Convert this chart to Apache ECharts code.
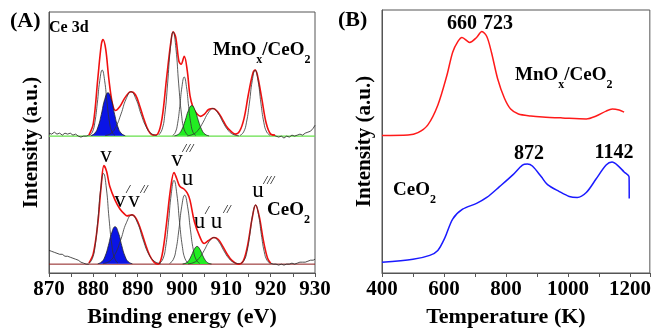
<!DOCTYPE html>
<html>
<head>
<meta charset="utf-8">
<script src="https://cdn.jsdelivr.net/npm/echarts@6/dist/echarts.min.js"></script>
<style>
  html, body { margin: 0; padding: 0; background: #fff; }
  #chart { width: 654px; height: 333px; }
</style>
</head>
<body>
<div id="chart"></div>
<script>
// ---- (A) Ce 3d XPS, binding energy (eV) vs intensity (a.u., arbitrary offset units)
// MnOx/CeO2 spectrum (upper), fit background at 139
const topBase = [[870, 139], [930, 139]];
const topRawLeft = [[870, 142], [870.6, 141], [871.2, 143], [871.8, 141], [872.4, 142], [873, 140], [873.6, 142], [874.2, 141], [874.8, 142], [875.4, 140], [876, 141], [876.6, 139], [877.2, 138], [877.8, 139], [878.4, 139], [879, 140]];
const topRawRight = [[920, 141], [920.6, 140], [921.2, 139], [921.8, 138], [922.4, 139], [923, 137], [923.6, 139], [924.2, 138], [924.8, 140], [925.4, 139], [926, 140], [926.6, 141], [927.2, 140], [927.8, 142], [928.4, 143], [929, 144], [929.6, 147], [930, 150]];
const topFit = [[879, 140], [880, 152], [881, 197], [881.8, 232], [882.2, 237], [882.8, 227], [883.5, 197], [884.3, 172], [885, 165], [886, 169], [887, 177], [888, 183], [888.5, 184], [889.5, 181], [890.5, 169], [891.5, 155], [892.5, 144], [893.5, 140], [894.5, 141], [895.5, 157], [896.5, 197], [897.5, 235], [898, 245], [898.6, 239], [899.3, 215], [899.8, 212], [900.5, 220], [901.2, 205], [901.8, 180], [902.5, 168], [903.3, 162], [904.2, 159], [905, 161], [906, 166], [907, 167], [908, 164], [909, 157], [910, 149], [911, 144], [912, 141], [913, 144], [914, 157], [915, 182], [916, 203], [916.5, 206], [917, 201], [918, 177], [919, 152], [920, 141], [921, 140]];
const topV = [[879.14, 139.7], [879.8, 143.2], [880.35, 153.1], [880.9, 172.5], [881.45, 195.3], [882, 206], [882.55, 195.3], [883.1, 172.5], [883.65, 153.1], [884.2, 143.2], [884.86, 139.7]];
const topV1 = [[879.4, 139.4], [880.3, 141.8], [881.05, 148.2], [881.8, 161], [882.55, 176], [883.3, 183], [884.05, 176], [884.8, 161], [885.55, 148.2], [886.3, 141.8], [887.2, 139.4]];
const topV2 = [[882.65, 139.5], [884, 141.8], [885.1, 148.5], [886.25, 161.5], [887.4, 176.8], [888.5, 184], [889.6, 176.8], [890.75, 161.5], [891.9, 148.5], [893, 141.8], [894.35, 139.5]];
const topV3 = [[894.75, 140.1], [895.5, 145.6], [896.13, 161.3], [896.75, 192], [897.38, 228], [898, 245], [898.63, 228], [899.25, 192], [899.88, 161.3], [900.5, 145.6], [901.25, 140.1]];
const topU = [[897.9, 139.6], [898.5, 142.8], [899, 151.6], [899.5, 169], [900, 189.4], [900.5, 199], [901, 189.4], [901.5, 169], [902, 151.6], [902.5, 142.8], [903.1, 139.6]];
const topU1 = [[898.3, 139.3], [899.2, 140.9], [899.95, 145.5], [900.7, 154.5], [901.45, 165], [902.2, 170], [902.95, 165], [903.7, 154.5], [904.45, 145.5], [905.2, 140.9], [906.1, 139.3]];
const topU2 = [[901.15, 139.3], [902.5, 140.8], [903.6, 144.9], [904.75, 153], [905.9, 162.5], [907, 167], [908.1, 162.5], [909.25, 153], [910.4, 144.9], [911.5, 140.8], [912.85, 139.3]];
const topU3 = [[913.1, 139.7], [913.9, 143.2], [914.55, 153.1], [915.2, 172.5], [915.85, 195.3], [916.5, 206], [917.15, 195.3], [917.8, 172.5], [918.45, 153.1], [919.1, 143.2], [919.9, 139.7]];

// CeO2 spectrum (lower), fit background at 9
const botBase = [[870, 9], [930, 9]];
const botRawLeft = [[870, 23], [870.6, 22], [871.2, 21], [871.8, 20], [872.4, 19], [873, 19], [873.6, 17], [874.2, 17], [874.8, 16], [875.4, 15], [876, 14], [876.6, 13], [877.2, 11], [877.8, 10], [878.4, 9], [879, 9]];
const botRawRight = [[920, 10], [920.6, 9], [921.2, 9], [921.8, 8], [922.4, 9], [923, 8], [923.6, 9], [924.2, 9], [924.8, 10], [925.4, 9], [926, 10], [926.6, 11], [927.2, 11], [927.8, 11], [928.4, 12], [929, 13], [929.6, 13], [930, 14]];
const botFit = [[879, 10], [880, 20], [881, 50], [881.7, 85], [882.4, 109], [883, 103], [883.7, 88], [884.9, 74], [886, 65], [887, 60], [887.6, 58], [888.7, 59], [889.7, 55], [890.7, 44], [891.7, 30], [892.7, 18], [893.7, 11], [894.6, 9], [895.5, 18], [896.5, 50], [897.4, 85], [898.2, 102], [898.8, 96], [899.5, 88], [900.5, 85], [901.2, 81], [901.8, 74], [902.8, 52], [904, 37], [905, 30], [906, 33], [907.2, 36], [908.2, 34], [909.2, 27], [910.2, 19], [911.2, 13], [912.7, 9], [913.8, 12], [914.8, 28], [915.8, 55], [916.6, 69], [917.4, 58], [918.4, 32], [919.3, 15], [920, 10]];
const botV = [[879.05, 9.9], [879.8, 14.8], [880.43, 28.3], [881.05, 55], [881.68, 86.3], [882.3, 101], [882.93, 86.3], [883.55, 55], [884.18, 28.3], [884.8, 14.8], [885.55, 9.9]];
const botV1 = [[881, 9.4], [881.9, 11.4], [882.65, 17], [883.4, 28], [884.15, 40.9], [884.9, 47], [885.65, 40.9], [886.4, 28], [887.15, 17], [887.9, 11.4], [888.8, 9.4]];
const botV2 = [[882.2, 9.5], [883.7, 12.1], [884.95, 19.5], [886.2, 34], [887.45, 51], [888.7, 59], [889.95, 51], [891.2, 34], [892.45, 19.5], [893.7, 12.1], [895.2, 9.5]];
const botV3 = [[894.95, 9.9], [895.7, 14.3], [896.33, 26.9], [896.95, 51.5], [897.58, 80.4], [898.2, 94], [898.83, 80.4], [899.45, 51.5], [900.08, 26.9], [900.7, 14.3], [901.45, 9.9]];
const botU = [[897.2, 9.7], [898, 13.4], [898.65, 23.7], [899.3, 44], [899.95, 67.8], [900.6, 79], [901.25, 67.8], [901.9, 44], [902.55, 23.7], [903.2, 13.4], [904, 9.7]];
const botU1 = [[900.15, 9.2], [900.9, 10.1], [901.53, 12.8], [902.15, 18], [902.78, 24.1], [903.4, 27], [904.03, 24.1], [904.65, 18], [905.28, 12.8], [905.9, 10.1], [906.65, 9.2]];
const botU2 = [[901.35, 9.3], [902.7, 10.7], [903.8, 14.7], [904.95, 22.5], [906.1, 31.7], [907.2, 36], [908.3, 31.7], [909.45, 22.5], [910.6, 14.7], [911.7, 10.7], [913.05, 9.3]];
const botU3 = [[913.2, 9.6], [914, 12.8], [914.65, 21.6], [915.3, 39], [915.95, 59.4], [916.6, 69], [917.25, 59.4], [917.9, 39], [918.55, 21.6], [919.2, 12.8], [920, 9.6]];

// ---- (B) H2-TPR, temperature (K) vs intensity (a.u.)
const tprMnCe = [[400, 140], [484, 140.5], [516, 143], [548, 151], [580, 171], [609, 201], [628, 225], [645, 236], [658, 240], [683, 235], [705, 240], [722, 246], [738, 241], [753, 225], [773, 198], [795, 178], [815, 167], [840, 162], [880, 160], [918, 159], [982, 158], [1059, 157], [1091, 160], [1123, 165], [1143, 167], [1165, 166], [1181, 164]];
const tprCe = [[400, 11], [500, 14], [554, 18], [580, 23], [603, 36], [628, 55], [660, 65], [705, 71], [738, 77], [779, 88], [822, 100], [853, 110], [869, 111], [885, 109], [914, 98], [934, 90], [972, 83], [1004, 78], [1030, 77], [1059, 82], [1091, 96], [1123, 110], [1142, 113], [1159, 110], [1181, 103], [1197, 98], [1197.5, 76]];

const SERIF = '"Liberation Serif", "Times New Roman", serif';
const AXIS = '#555';

const chart = echarts.init(document.getElementById('chart'), null, { renderer: 'canvas' });

function line(i, data, color, width, extra) {
  return Object.assign({
    type: 'line', xAxisIndex: i, yAxisIndex: i, data: data,
    symbol: 'none', showSymbol: false, silent: true,
    lineStyle: { color: color, width: width }
  }, extra || {});
}
function peak(data, fill) {
  return line(0, data, fill ? '#222' : '#333', 0.8, {
    smooth: 0.5, z: 4,
    areaStyle: fill ? { color: fill, opacity: 1, origin: data[0][1] } : undefined
  });
}

function xAxisCfg(i, min, max, interval, step, name, shift) {
  return {
    type: 'value', gridIndex: i, min: min, max: max, interval: interval,
    name: name, nameLocation: 'middle', nameGap: 33,
    nameTextStyle: { fontFamily: SERIF, fontWeight: 'bold', fontSize: 22, color: '#000', padding: [0, shift, 0, 0] },
    axisLine: { show: true, lineStyle: { color: AXIS, width: 1 } },
    axisTick: { show: true, inside: false, length: 4, lineStyle: { color: AXIS } },
    axisLabel: {
      margin: 6, fontFamily: SERIF, fontWeight: 'bold', fontSize: 21, color: '#000',
      formatter: function (v) { return v % step === 0 ? String(v) : ''; }
    },
    splitLine: { show: false }
  };
}
function yAxisCfg(i, max) {
  return {
    type: 'value', gridIndex: i, min: 0, max: max,
    name: 'Intensity (a.u.)', nameLocation: 'middle', nameGap: 7,
    nameTextStyle: { fontFamily: SERIF, fontWeight: 'bold', fontSize: 21, color: '#000' },
    axisLine: { show: true, lineStyle: { color: AXIS, width: 1 } },
    axisTick: { show: false }, axisLabel: { show: false }, splitLine: { show: false }
  };
}

function txt(x, y, text, size, o) {
  return {
    type: 'text', x: x, y: y, silent: true,
    style: Object.assign({
      text: text, fill: '#000', fontFamily: SERIF, fontSize: size, fontWeight: 'bold',
      align: 'center', verticalAlign: 'middle'
    }, o || {})
  };
}
function chem(x, y, parts, size) {
  // parts like ['MnO','x','/CeO','2'] : even index = normal, odd = subscript
  let s = '';
  parts.forEach(function (p, k) { s += (k % 2 ? '{s|' : '{m|') + p + '}'; });
  return {
    type: 'text', x: x, y: y, silent: true,
    style: {
      text: s, align: 'left', verticalAlign: 'top',
      rich: {
        m: { fontFamily: SERIF, fontWeight: 'bold', fontSize: size, fill: '#000', verticalAlign: 'bottom', padding: [0, 0, 6, 0] },
        s: { fontFamily: SERIF, fontWeight: 'bold', fontSize: Math.round(size * 0.62), fill: '#000', verticalAlign: 'bottom' }
      }
    }
  };
}
// peak letter centred at (x, y); primes centred at (px, py)
function peakLabel(x, y, letter, primes, px, py) {
  const out = [txt(x, y, letter, 23, { fontWeight: 'normal' })];
  if (primes) out.push(txt(px, py, primes, 13, { fontWeight: 'normal', fontStyle: 'italic' }));
  return out;
}

const graphics = [].concat(
  [txt(10, 21, '(A)', 22, { align: 'left' }),
   txt(49, 28, 'Ce 3d', 16, { align: 'left' }),
   chem(213, 41, ['MnO', 'x', '/CeO', '2'], 19),
   chem(267, 201, ['CeO', '2'], 19)],
  peakLabel(106, 156, 'v'),
  peakLabel(120, 201, 'v', '/', 128, 190),
  peakLabel(134, 201, 'v', '//', 144, 190),
  peakLabel(177, 160, 'v', '///', 188, 149),
  peakLabel(187.5, 179, 'u'),
  peakLabel(199.5, 222, 'u', '/', 207, 211),
  peakLabel(216.5, 222, 'u', '//', 227, 210),
  peakLabel(258, 191, 'u', '///', 269, 181),
  [txt(338, 20, '(B)', 22, { align: 'left' }),
   txt(462, 24, '660', 20),
   txt(498, 24, '723', 20),
   chem(515, 66, ['MnO', 'x', '/CeO', '2'], 19),
   chem(393, 181, ['CeO', '2'], 19),
   txt(529, 154, '872', 20),
   txt(614, 153, '1142', 20)]
);

const option = {
  animation: false,
  backgroundColor: '#fff',
  grid: [
    { left: 49, top: 12, width: 266, height: 265, show: true, borderColor: AXIS, borderWidth: 1 },
    { left: 382, top: 10, width: 269, height: 268, show: true, borderColor: AXIS, borderWidth: 1 }
  ],
  xAxis: [
    xAxisCfg(0, 870, 930, 5, 10, 'Binding energy (eV)', 0),
    xAxisCfg(1, 400, 1264, 100, 200, 'Temperature (K)', 20)
  ],
  yAxis: [yAxisCfg(0, 265), yAxisCfg(1, 268)],
  series: [
    line(0, topBase, '#66e04a', 1.2, { z: 2 }),
    line(0, botBase, '#8b1a1a', 1, { z: 2 }),
    line(0, topRawLeft, '#222', 0.8, { z: 2 }),
    line(0, topRawRight, '#222', 0.8, { z: 2 }),
    line(0, botRawLeft, '#222', 0.8, { z: 2 }),
    line(0, botRawRight, '#222', 0.8, { z: 2 }),
    peak(topV1, '#0a14e6'),
    peak(topU1, '#22ee22'),
    peak(botV1, '#0a14e6'),
    peak(botU1, '#22ee22'),
    line(0, topFit, '#f01010', 1.6, { smooth: 0.35, z: 3 }),
    line(0, botFit, '#f01010', 1.6, { smooth: 0.35, z: 3 }),
    peak(topV), peak(topV2), peak(topV3), peak(topU), peak(topU2), peak(topU3),
    peak(botV), peak(botV2), peak(botV3), peak(botU), peak(botU2), peak(botU3),
    line(1, tprMnCe, '#ff1a1a', 1.5, { smooth: 0.3 }),
    line(1, tprCe, '#1a1aff', 1.5, { smooth: 0.3 })
  ],
  graphic: graphics
};
chart.setOption(option);
</script>
</body>
</html>
